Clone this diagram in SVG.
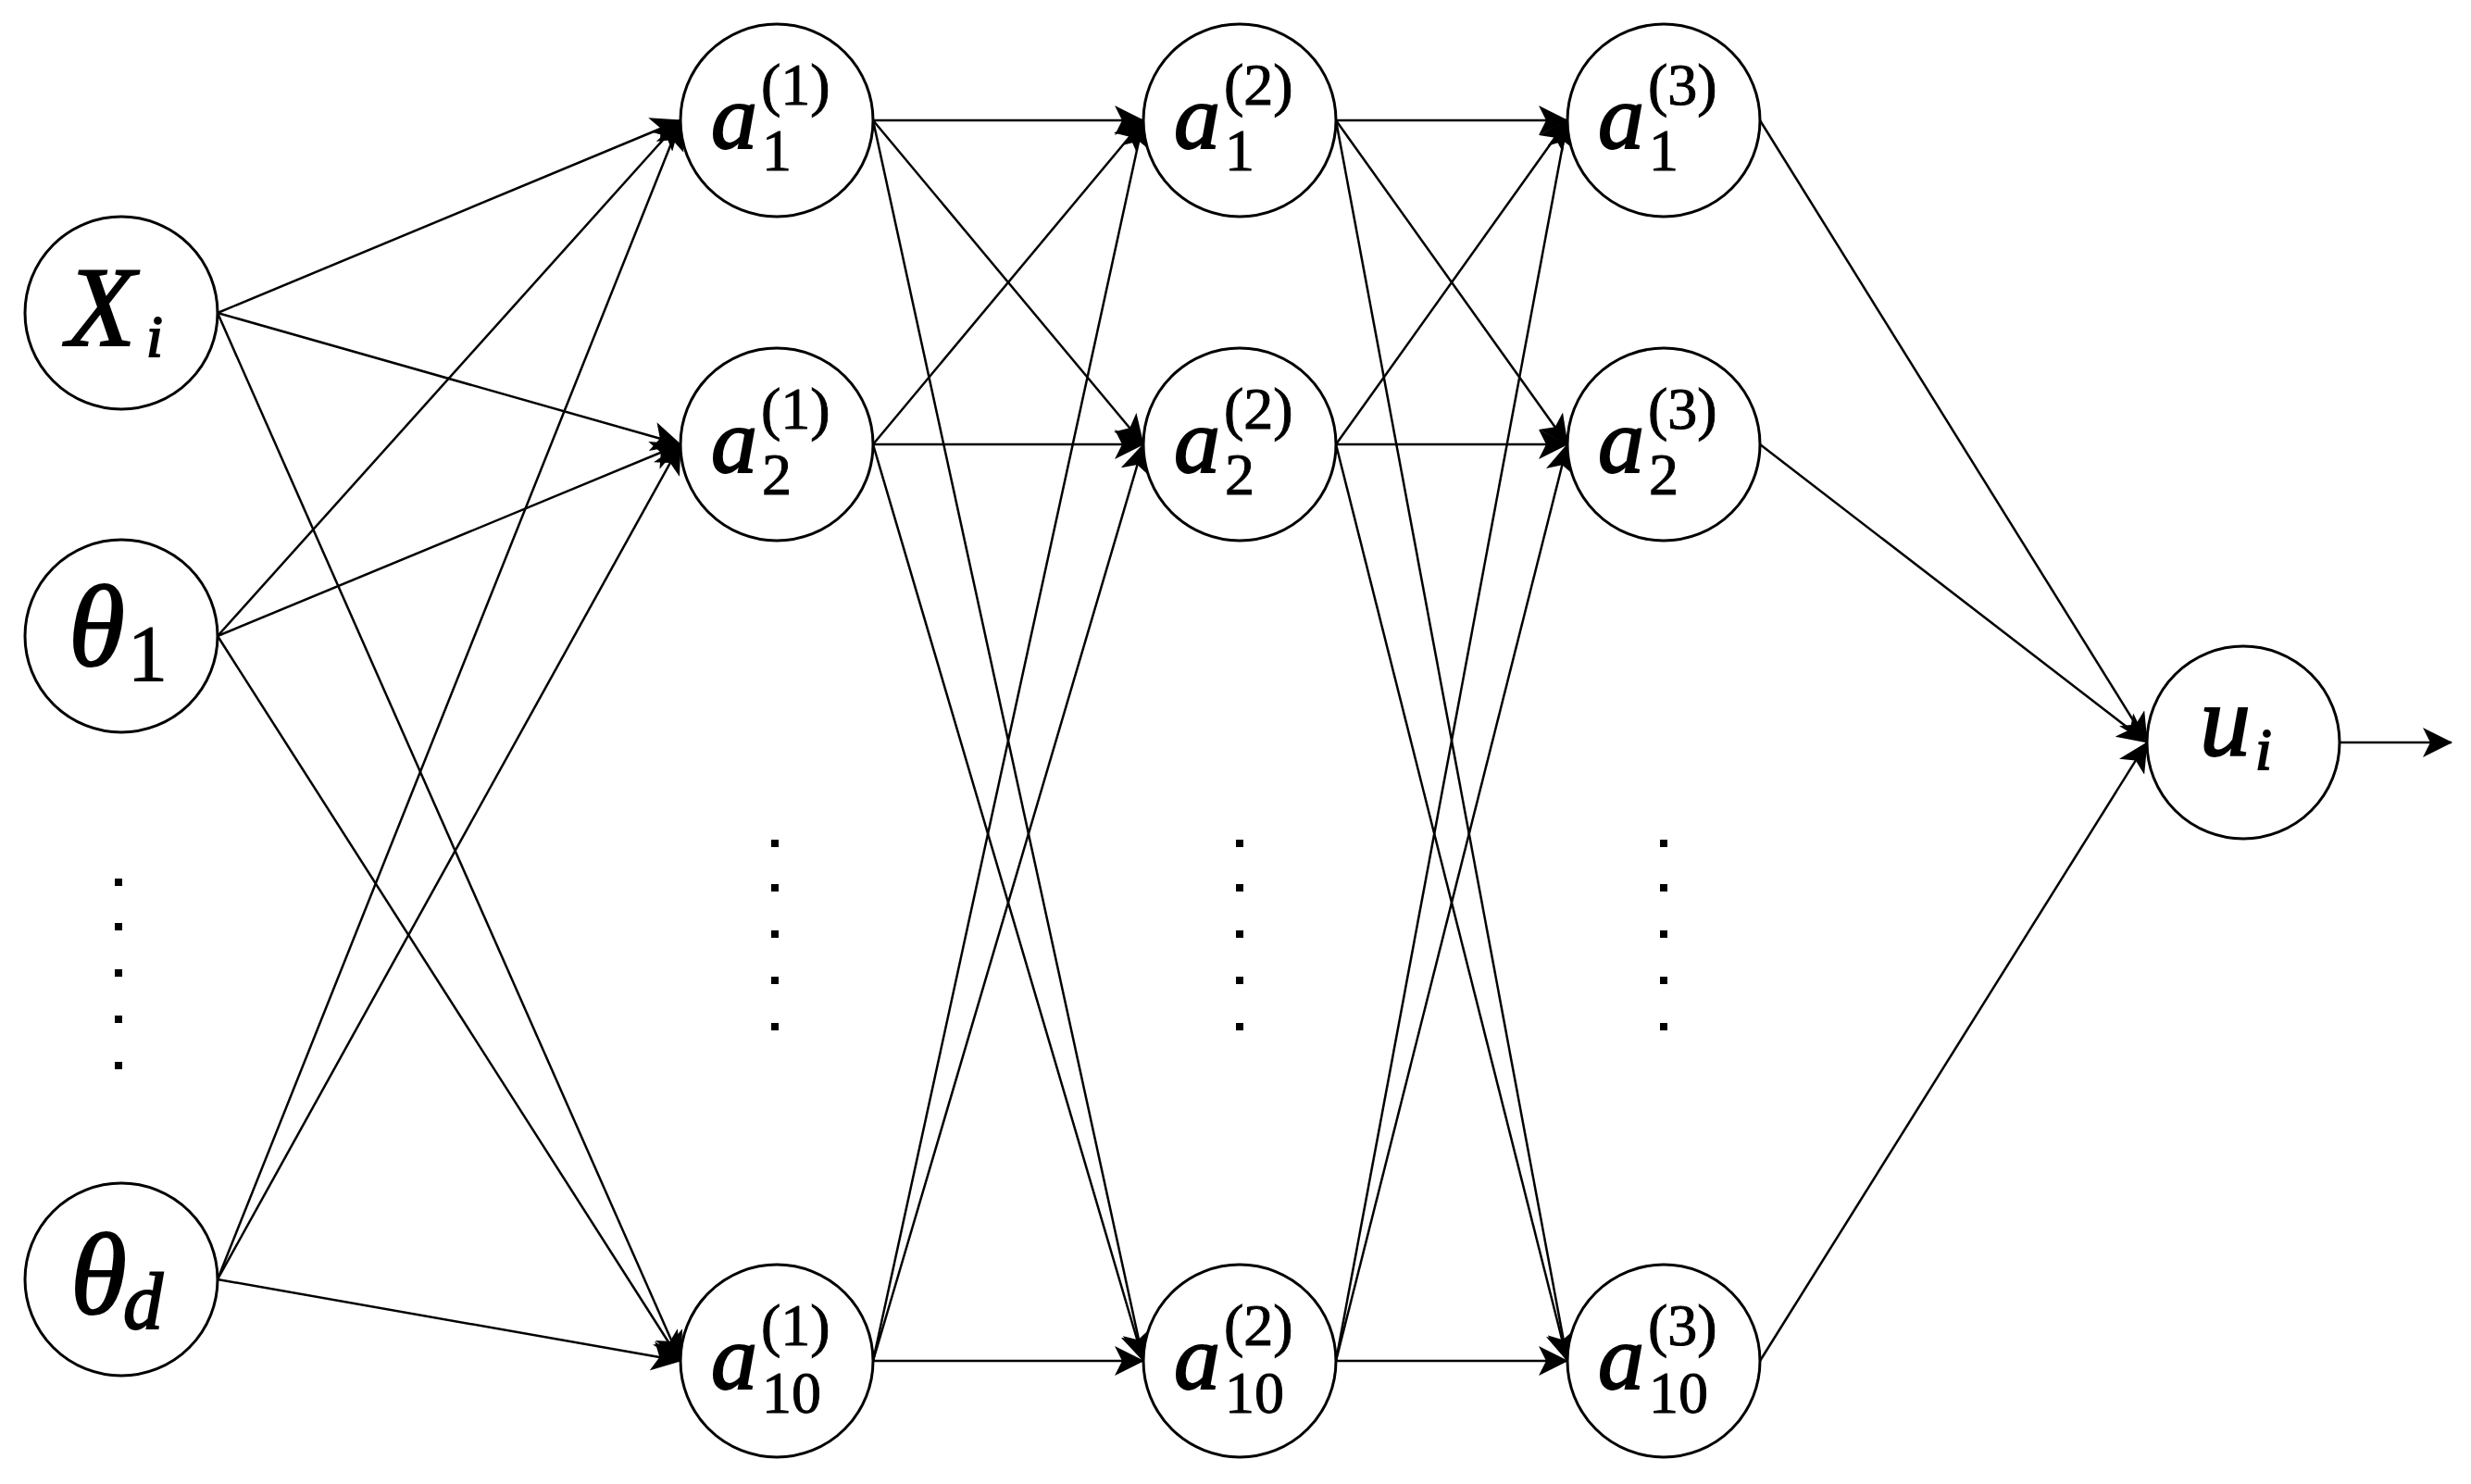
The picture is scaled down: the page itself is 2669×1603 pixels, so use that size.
<svg xmlns="http://www.w3.org/2000/svg" width="2669" height="1603" viewBox="0 0 2669 1603">
<defs>
<style>
.node{fill:#fff;stroke:#000;stroke-width:3}
.edge{stroke:#000;stroke-width:2.5;fill:none;marker-end:url(#arr)}
.m{font-family:"Liberation Serif","DejaVu Serif",serif;font-style:italic;fill:#000;stroke:#000;stroke-width:2}
.n{font-family:"Liberation Serif","DejaVu Serif",serif;fill:#000;stroke:#000;stroke-width:1}
.dot{fill:#000}
</style>
<marker id="arr" markerUnits="userSpaceOnUse" viewBox="0 0 32 32" refX="31" refY="16" markerWidth="32" markerHeight="32" orient="auto">
<path d="M0,0 L32,16 L0,32 L8,16 Z" fill="#000"/>
</marker>
</defs>
<rect width="2669" height="1603" fill="#fff"/>
<g id="connectors">
<line class="edge" x1="235" y1="338" x2="735" y2="130"/>
<line class="edge" x1="235" y1="338" x2="735" y2="480"/>
<line class="edge" x1="235" y1="338" x2="735" y2="1470"/>
<line class="edge" x1="235" y1="687" x2="735" y2="130"/>
<line class="edge" x1="235" y1="687" x2="735" y2="480"/>
<line class="edge" x1="235" y1="687" x2="735" y2="1470"/>
<line class="edge" x1="235" y1="1382" x2="735" y2="130"/>
<line class="edge" x1="235" y1="1382" x2="735" y2="480"/>
<line class="edge" x1="235" y1="1382" x2="735" y2="1470"/>
<line class="edge" x1="943" y1="130" x2="1235" y2="130"/>
<line class="edge" x1="943" y1="130" x2="1235" y2="480"/>
<line class="edge" x1="943" y1="130" x2="1235" y2="1470"/>
<line class="edge" x1="943" y1="480" x2="1235" y2="130"/>
<line class="edge" x1="943" y1="480" x2="1235" y2="480"/>
<line class="edge" x1="943" y1="480" x2="1235" y2="1470"/>
<line class="edge" x1="943" y1="1470" x2="1235" y2="130"/>
<line class="edge" x1="943" y1="1470" x2="1235" y2="480"/>
<line class="edge" x1="943" y1="1470" x2="1235" y2="1470"/>
<line class="edge" x1="1443" y1="130" x2="1693" y2="130"/>
<line class="edge" x1="1443" y1="130" x2="1693" y2="480"/>
<line class="edge" x1="1443" y1="130" x2="1693" y2="1470"/>
<line class="edge" x1="1443" y1="480" x2="1693" y2="130"/>
<line class="edge" x1="1443" y1="480" x2="1693" y2="480"/>
<line class="edge" x1="1443" y1="480" x2="1693" y2="1470"/>
<line class="edge" x1="1443" y1="1470" x2="1693" y2="130"/>
<line class="edge" x1="1443" y1="1470" x2="1693" y2="480"/>
<line class="edge" x1="1443" y1="1470" x2="1693" y2="1470"/>
<line class="edge" x1="1901" y1="130" x2="2319" y2="802"/>
<line class="edge" x1="1901" y1="480" x2="2319" y2="802"/>
<line class="edge" x1="1901" y1="1470" x2="2319" y2="802"/>
<line class="edge" x1="2527" y1="802" x2="2648" y2="802"/>
</g>
<g id="node-xi"><circle class="node" cx="131" cy="338" r="104"/><text class="m" x="72" y="373" font-size="122">X</text><text class="m" x="158" y="385" font-size="64">i</text></g>
<g id="node-theta1"><circle class="node" cx="131" cy="687" r="104"/><text class="m" x="74" y="719" font-size="124">θ</text><text class="n" x="138" y="735" font-size="86">1</text></g>
<g id="node-thetad"><circle class="node" cx="131" cy="1382" r="104"/><text class="m" x="76" y="1419" font-size="124">θ</text><text class="m" x="133" y="1435" font-size="86">d</text></g>
<g id="input-dots"><rect class="dot" x="124" y="949" width="8" height="8"/><rect class="dot" x="124" y="997" width="8" height="8"/><rect class="dot" x="124" y="1047" width="8" height="8"/><rect class="dot" x="124" y="1097" width="8" height="8"/><rect class="dot" x="124" y="1147" width="8" height="8"/></g>
<g id="node-a1-1"><circle class="node" cx="839" cy="130" r="104"/><text class="m" x="768" y="160" font-size="100">a</text><text class="n" x="822" y="113" font-size="64">(1)</text><text class="n" x="823" y="184" font-size="64">1</text></g>
<g id="node-a2-1"><circle class="node" cx="839" cy="480" r="104"/><text class="m" x="768" y="510" font-size="100">a</text><text class="n" x="822" y="463" font-size="64">(1)</text><text class="n" x="823" y="534" font-size="64">2</text></g>
<g id="node-a10-1"><circle class="node" cx="839" cy="1470" r="104"/><text class="m" x="768" y="1500" font-size="100">a</text><text class="n" x="822" y="1453" font-size="64">(1)</text><text class="n" x="823" y="1526" font-size="64">10</text></g>
<g id="layer1-dots"><rect class="dot" x="833" y="907" width="8" height="8"/><rect class="dot" x="833" y="955" width="8" height="8"/><rect class="dot" x="833" y="1005" width="8" height="8"/><rect class="dot" x="833" y="1055" width="8" height="8"/><rect class="dot" x="833" y="1105" width="8" height="8"/></g>
<g id="node-a1-2"><circle class="node" cx="1339" cy="130" r="104"/><text class="m" x="1268" y="160" font-size="100">a</text><text class="n" x="1322" y="113" font-size="64">(2)</text><text class="n" x="1323" y="184" font-size="64">1</text></g>
<g id="node-a2-2"><circle class="node" cx="1339" cy="480" r="104"/><text class="m" x="1268" y="510" font-size="100">a</text><text class="n" x="1322" y="463" font-size="64">(2)</text><text class="n" x="1323" y="534" font-size="64">2</text></g>
<g id="node-a10-2"><circle class="node" cx="1339" cy="1470" r="104"/><text class="m" x="1268" y="1500" font-size="100">a</text><text class="n" x="1322" y="1453" font-size="64">(2)</text><text class="n" x="1323" y="1526" font-size="64">10</text></g>
<g id="layer2-dots"><rect class="dot" x="1335" y="907" width="8" height="8"/><rect class="dot" x="1335" y="955" width="8" height="8"/><rect class="dot" x="1335" y="1005" width="8" height="8"/><rect class="dot" x="1335" y="1055" width="8" height="8"/><rect class="dot" x="1335" y="1105" width="8" height="8"/></g>
<g id="node-a1-3"><circle class="node" cx="1797" cy="130" r="104"/><text class="m" x="1726" y="160" font-size="100">a</text><text class="n" x="1780" y="113" font-size="64">(3)</text><text class="n" x="1781" y="184" font-size="64">1</text></g>
<g id="node-a2-3"><circle class="node" cx="1797" cy="480" r="104"/><text class="m" x="1726" y="510" font-size="100">a</text><text class="n" x="1780" y="463" font-size="64">(3)</text><text class="n" x="1781" y="534" font-size="64">2</text></g>
<g id="node-a10-3"><circle class="node" cx="1797" cy="1470" r="104"/><text class="m" x="1726" y="1500" font-size="100">a</text><text class="n" x="1780" y="1453" font-size="64">(3)</text><text class="n" x="1781" y="1526" font-size="64">10</text></g>
<g id="layer3-dots"><rect class="dot" x="1793" y="907" width="8" height="8"/><rect class="dot" x="1793" y="955" width="8" height="8"/><rect class="dot" x="1793" y="1005" width="8" height="8"/><rect class="dot" x="1793" y="1055" width="8" height="8"/><rect class="dot" x="1793" y="1105" width="8" height="8"/></g>
<g id="node-ui"><circle class="node" cx="2423" cy="802" r="104"/><text class="m" x="2376" y="816" font-size="110">u</text><text class="m" x="2436" y="831" font-size="64">i</text></g>
</svg>
